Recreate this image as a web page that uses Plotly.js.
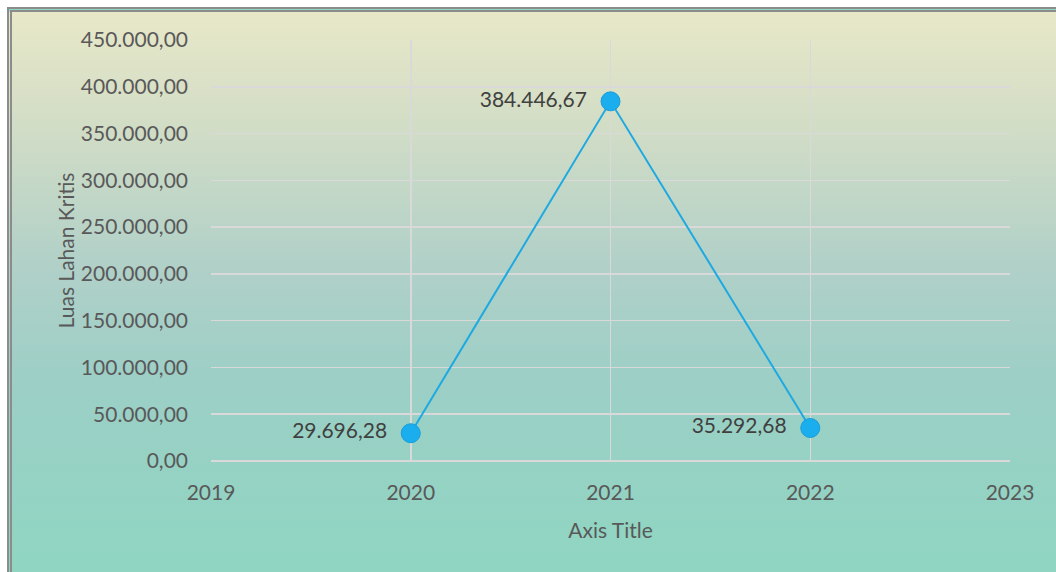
<!DOCTYPE html>
<html>
<head>
<meta charset="utf-8">
<script src="https://cdn.plot.ly/plotly-3.0.1.min.js"></script>
<style>
  html, body { margin: 0; padding: 0; background: #ffffff; width: 1056px; height: 572px; overflow: hidden; }
  #frame {
    position: absolute; left: 7px; top: 7px; width: 1060px; height: 580px;
    border: 5px double #8c8c8c; box-sizing: border-box;
    background: linear-gradient(to bottom, #e8e8c8 0%, #d2ddc6 20%, #b0d0c8 45%, #9ccfc6 65%, #8ed6c1 100%);
  }
  #chart { position: absolute; left: 0; top: 0; width: 1056px; height: 572px; }
</style>
</head>
<body>
<div id="frame"></div>
<div id="chart"></div>
<script>
const years = [2020, 2021, 2022];
const luasLahanKritis = [29696.28, 384446.67, 35292.68];
const yTitle = 'Luas Lahan Kritis';
const xTitle = 'Axis Title';

const font = 'Lato, "Open Sans", sans-serif';

const trace = {
  x: years,
  y: luasLahanKritis,
  type: 'scatter',
  mode: 'lines+markers+text',
  line: { color: '#1ea9e1', width: 2 },
  marker: { size: 19, color: '#1aaeee', line: { color: '#1a9cd8', width: 1 } },
  texttemplate: '%{y:,.2f}  ',
  textposition: 'middle left',
  textfont: { family: font, size: 21, color: '#404040' },
  cliponaxis: false,
  hoverinfo: 'skip'
};

const layout = {
  width: 1056, height: 572,
  paper_bgcolor: 'rgba(0,0,0,0)',
  plot_bgcolor: 'rgba(0,0,0,0)',
  separators: ',.',
  showlegend: false,
  margin: { l: 211, r: 46, t: 40, b: 111 },
  font: { family: font, size: 21, color: '#595959' },
  xaxis: {
    range: [2019, 2023], dtick: 1, tick0: 2019,
    showgrid: true, gridcolor: '#d9d9d9', gridwidth: 1.5,
    zeroline: false, showline: false,
    ticks: '', ticklabelstandoff: 17,
    tickfont: { family: font, size: 21, color: '#595959' },
    title: { text: xTitle, standoff: 20, font: { family: font, size: 21, color: '#595959' } },
    fixedrange: true
  },
  yaxis: {
    range: [0, 450000], dtick: 50000, tick0: 0,
    tickformat: ',.2f',
    showgrid: true, gridcolor: '#d9d9d9', gridwidth: 1.5,
    zeroline: true, zerolinecolor: '#d9d9d9', zerolinewidth: 1.5,
    showline: false, ticks: '', ticklabelstandoff: 22,
    tickfont: { family: font, size: 21, color: '#595959' },
    title: { text: yTitle, standoff: 0, font: { family: font, size: 21, color: '#595959' } },
    fixedrange: true
  }
};

Plotly.newPlot('chart', [trace], layout, { staticPlot: true, displayModeBar: false });
</script>
</body>
</html>
